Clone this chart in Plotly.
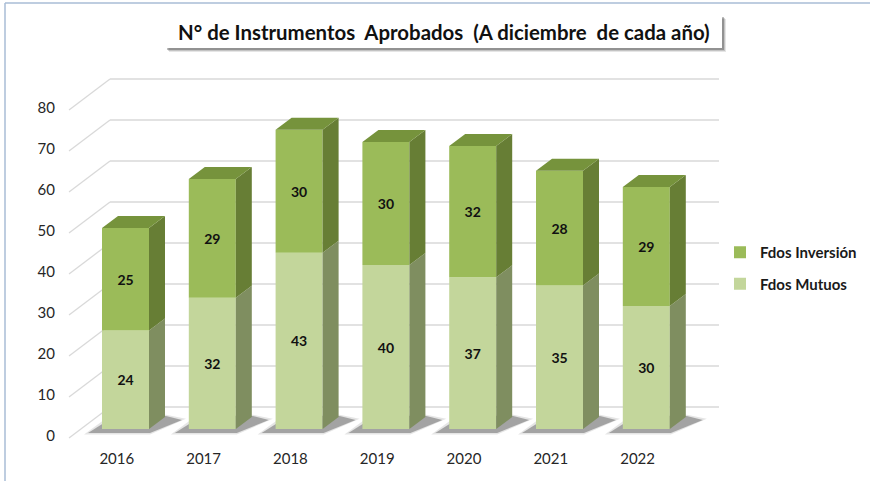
import plotly.graph_objects as go

# ---------------- data ----------------
years = ["2016", "2017", "2018", "2019", "2020", "2021", "2022"]
fdos_mutuos = [24, 32, 43, 40, 37, 35, 30]
fdos_inversion = [25, 29, 30, 30, 32, 28, 29]
y_ticks = [0, 10, 20, 30, 40, 50, 60, 70, 80]
title_text = "N° de Instrumentos\u00a0 Aprobados\u00a0 (A diciembre\u00a0 de cada año)"
series_names = ["Fdos Mutuos", "Fdos Inversión"]

# ---------------- layout geometry ----------------
W, H = 870, 481
L, R, T, B = 60, 730, 60, 448
PX_X = 86.8          # px per category
PX_Y = 4.1           # px per unit
X0_PX, Y0_PX = 125.5, 429.0   # px of category 0 / value 0 at the bar front plane

xmin = (L - X0_PX) / PX_X
xmax = (R - X0_PX) / PX_X
ymax = (Y0_PX - T) / PX_Y
ymin = (Y0_PX - B) / PX_Y

def dx(px):
    return px / PX_X

def dv(px):  # positive px = upwards
    return px / PX_Y

bar_w = dx(47)
bd_x, bd_v = dx(16), dv(12)          # bar depth
wall_x, wall_v = dx(29), dv(22)      # bar front -> back wall
floor_x, floor_v = dx(-12), dv(-9)   # bar front -> floor front
grid_left_front = dx(69 - X0_PX)
grid_left_back = grid_left_front + dx(41)
grid_right = dx(719 - X0_PX)

c_light_front = "#c3d69b"
c_light_side = "#7f8e60"
c_dark_front = "#9bbb59"
c_dark_side = "#677e35"
c_dark_top = "#76933c"

xs = list(range(len(years)))

fig = go.Figure()

# front faces
fig.add_trace(go.Bar(
    x=xs, y=fdos_mutuos, base=[0] * len(xs), width=bar_w,
    name=series_names[0], marker=dict(color=c_light_front, line=dict(width=0)),
    text=[str(v) for v in fdos_mutuos], textposition="inside",
    insidetextanchor="middle", constraintext="none",
    textfont=dict(family="Lato", size=14, color="#111111", weight="bold"),
    legendgroup="m", legendrank=2,
))
fig.add_trace(go.Bar(
    x=xs, y=fdos_inversion, base=fdos_mutuos, width=bar_w,
    name=series_names[1], marker=dict(color=c_dark_front, line=dict(width=0)),
    text=[str(v) for v in fdos_inversion], textposition="inside",
    insidetextanchor="middle", constraintext="none",
    textfont=dict(family="Lato", size=14, color="#111111", weight="bold"),
    legendgroup="i", legendrank=1,
))

# side faces and top faces
def side_poly(x_r, v0, v1):
    return ([x_r, x_r + bd_x, x_r + bd_x, x_r, x_r, None],
            [v0, v0 + bd_v, v1 + bd_v, v1, v0, None])

sx_l, sy_l, sx_d, sy_d, tx, ty = [], [], [], [], [], []
for i, (m, inv) in enumerate(zip(fdos_mutuos, fdos_inversion)):
    xr = i + bar_w / 2
    xl = i - bar_w / 2
    a, b = side_poly(xr, 0, m)
    sx_l += a; sy_l += b
    a, b = side_poly(xr, m, m + inv)
    sx_d += a; sy_d += b
    top = m + inv
    tx += [xl, xl + bd_x, xr + bd_x, xr, xl, None]
    ty += [top, top + bd_v, top + bd_v, top, top, None]

for px_, py_, col in [(sx_l, sy_l, c_light_side), (sx_d, sy_d, c_dark_side), (tx, ty, c_dark_top)]:
    fig.add_trace(go.Scatter(x=px_, y=py_, mode="lines", fill="toself",
                             fillcolor=col, line=dict(width=0, color=col),
                             showlegend=False, hoverinfo="skip"))

shapes = []
# gridlines (back wall + left side diagonals)
for t in y_ticks:
    shapes.append(dict(type="line", xref="x", yref="y", layer="below",
                       x0=grid_left_front, y0=t + floor_v, x1=grid_left_back, y1=t + wall_v,
                       line=dict(color="#d9d9d9", width=1.3)))
    shapes.append(dict(type="line", xref="x", yref="y", layer="below",
                       x0=grid_left_back, y0=t + wall_v, x1=grid_right, y1=t + wall_v,
                       line=dict(color="#d9d9d9", width=1.3)))

# soft shadows on the floor
def shadow_path(i, grow):
    xl = i - bar_w / 2
    pts = [(-14 - grow, 4 + grow * 0.4), (48, 4 + grow * 0.4), (80 + grow, -9 - grow * 0.3),
           (64, -13 - grow * 0.3), (13 - grow, -13 - grow * 0.3)]
    return "M " + " L ".join(f"{xl + dx(p[0])},{dv(-p[1])}" for p in pts) + " Z"

for i in xs:
    shapes.append(dict(type="path", xref="x", yref="y", layer="below",
                       path=shadow_path(i, 4), fillcolor="rgba(0,0,0,0.10)", line=dict(width=0)))
    shapes.append(dict(type="path", xref="x", yref="y", layer="below",
                       path=shadow_path(i, 0), fillcolor="rgba(40,40,40,0.35)", line=dict(width=0)))

# paper-coordinate helpers for decorations
def ppx(px):
    return (px - L) / (R - L)

def ppy(py):
    return (B - py) / (B - T)

# outer frame (top & left)
shapes.append(dict(type="line", xref="paper", yref="paper", x0=ppx(5), y0=ppy(3), x1=ppx(870), y1=ppy(3),
                   line=dict(color="#a9bcd6", width=1.5)))
shapes.append(dict(type="line", xref="paper", yref="paper", x0=ppx(5), y0=ppy(3), x1=ppx(5), y1=ppy(481),
                   line=dict(color="#a9bcd6", width=1.5)))
# title box shadow
for k, a in [(4, 0.10), (3, 0.15), (2, 0.25)]:
    shapes.append(dict(type="rect", xref="paper", yref="paper", layer="above",
                       x0=ppx(165 + k), y0=ppy(15 + k), x1=ppx(722 + k), y1=ppy(48 + k),
                       fillcolor=f"rgba(0,0,0,{a})", line=dict(width=0)))
shapes.append(dict(type="rect", xref="paper", yref="paper", layer="above",
                   x0=ppx(163), y0=ppy(14), x1=ppx(722), y1=ppy(48),
                   fillcolor="white", line=dict(width=0)))

fig.update_layout(
    width=W, height=H,
    margin=dict(l=L, r=W - R, t=T, b=H - B, autoexpand=False),
    paper_bgcolor="white", plot_bgcolor="white",
    barmode="overlay",
    showlegend=True,
    shapes=shapes,
    font=dict(family="Lato", color="#262626"),
    xaxis=dict(range=[xmin, xmax], tickmode="array",
               tickvals=[i - 0.1 for i in xs], ticktext=years,
               showgrid=False, zeroline=False, showline=False, ticks="",
               tickfont=dict(family="Lato", size=15, color="#262626"),
               fixedrange=True, automargin=False),
    yaxis=dict(range=[ymin, ymax], tickmode="array", tickvals=y_ticks,
               ticktext=[str(t) for t in y_ticks],
               showgrid=False, zeroline=False, showline=False, ticks="",
               ticklabelshift=7, ticklabelstandoff=4,
               tickfont=dict(family="Lato", size=15, color="#262626"),
               fixedrange=True, automargin=False),
    legend=dict(x=ppx(720), y=ppy(236), xanchor="left", yanchor="top",
                bgcolor="rgba(0,0,0,0)", tracegroupgap=9,
                font=dict(family="Lato", size=15, color="#1a1a1a", weight="bold")),
    annotations=[dict(text=title_text, xref="paper", yref="paper",
                      x=ppx(444), y=ppy(32), xanchor="center", yanchor="middle",
                      showarrow=False,
                      font=dict(family="Lato", size=20.4, color="#111111", weight="bold"))],
)

fig.write_html("out.html")
